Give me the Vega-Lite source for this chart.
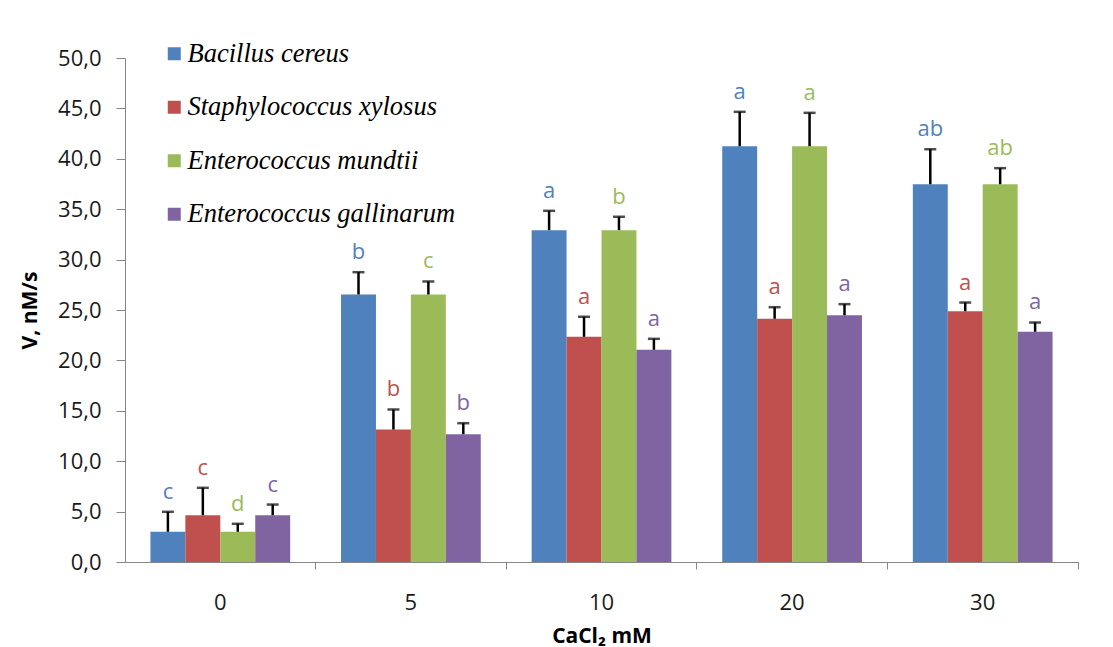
{
  "$schema": "https://vega.github.io/schema/vega-lite/v6.json",
  "autosize": {"type": "none"},
  "padding": {"left": 125, "top": 58, "right": 35, "bottom": 85},
  "width": 953,
  "height": 504,
  "background": "white",
  "config": {
    "view": {"stroke": null},
    "font": "Open Sans",
    "axis": {
      "domainColor": "#868686",
      "tickColor": "#868686",
      "labelColor": "#1a1a1a",
      "titleColor": "#000000",
      "labelFont": "Open Sans",
      "titleFont": "Open Sans",
      "labelFontSize": 22,
      "titleFontSize": 21,
      "titleFontWeight": "bold",
      "grid": false
    }
  },
  "data": {
    "values": [
      {"conc": "0", "species": "Bacillus cereus", "v": 3.0, "upper": 4.98, "letter": "c"},
      {"conc": "0", "species": "Staphylococcus xylosus", "v": 4.64, "upper": 7.36, "letter": "c"},
      {"conc": "0", "species": "Enterococcus mundtii", "v": 3.0, "upper": 3.79, "letter": "d"},
      {"conc": "0", "species": "Enterococcus gallinarum", "v": 4.64, "upper": 5.7, "letter": "c"},
      {"conc": "5", "species": "Bacillus cereus", "v": 26.54, "upper": 28.75, "letter": "b"},
      {"conc": "5", "species": "Staphylococcus xylosus", "v": 13.14, "upper": 15.13, "letter": "b"},
      {"conc": "5", "species": "Enterococcus mundtii", "v": 26.54, "upper": 27.83, "letter": "c"},
      {"conc": "5", "species": "Enterococcus gallinarum", "v": 12.68, "upper": 13.77, "letter": "b"},
      {"conc": "10", "species": "Bacillus cereus", "v": 32.92, "upper": 34.84, "letter": "a"},
      {"conc": "10", "species": "Staphylococcus xylosus", "v": 22.34, "upper": 24.33, "letter": "a"},
      {"conc": "10", "species": "Enterococcus mundtii", "v": 32.92, "upper": 34.25, "letter": "b"},
      {"conc": "10", "species": "Enterococcus gallinarum", "v": 21.05, "upper": 22.14, "letter": "a"},
      {"conc": "20", "species": "Bacillus cereus", "v": 41.25, "upper": 44.66, "letter": "a"},
      {"conc": "20", "species": "Staphylococcus xylosus", "v": 24.13, "upper": 25.28, "letter": "a"},
      {"conc": "20", "species": "Enterococcus mundtii", "v": 41.25, "upper": 44.56, "letter": "a"},
      {"conc": "20", "species": "Enterococcus gallinarum", "v": 24.48, "upper": 25.58, "letter": "a"},
      {"conc": "30", "species": "Bacillus cereus", "v": 37.48, "upper": 40.95, "letter": "ab"},
      {"conc": "30", "species": "Staphylococcus xylosus", "v": 24.88, "upper": 25.74, "letter": "a"},
      {"conc": "30", "species": "Enterococcus mundtii", "v": 37.48, "upper": 39.07, "letter": "ab"},
      {"conc": "30", "species": "Enterococcus gallinarum", "v": 22.84, "upper": 23.76, "letter": "a"}
    ]
  },
  "encoding": {
    "x": {
      "field": "conc",
      "type": "nominal",
      "sort": ["0", "5", "10", "20", "30"],
      "scale": {"paddingInner": 0, "paddingOuter": 0},
      "axis": {
        "title": "CaCl₂ mM",
        "labelAngle": 0,
        "bandPosition": 1,
        "tickSize": 7,
        "labelPadding": 23,
        "titlePadding": 12
      }
    },
    "xOffset": {
      "field": "species",
      "type": "nominal",
      "sort": ["Bacillus cereus", "Staphylococcus xylosus", "Enterococcus mundtii", "Enterococcus gallinarum"],
      "scale": {"paddingInner": 0, "paddingOuter": 0.728}
    }
  },
  "layer": [
    {
      "mark": {"type": "bar"},
      "encoding": {
        "y": {
          "field": "v",
          "type": "quantitative",
          "scale": {"domain": [0, 50], "nice": false},
          "axis": {
            "title": "V, nM/s",
            "values": [0, 5, 10, 15, 20, 25, 30, 35, 40, 45, 50],
            "labelExpr": "replace(format(datum.value, '.1f'), '.', ',')",
            "tickSize": 9,
            "labelPadding": 15,
            "titlePadding": 17
          }
        },
        "color": {
          "field": "species",
          "type": "nominal",
          "scale": {
            "domain": ["Bacillus cereus", "Staphylococcus xylosus", "Enterococcus mundtii", "Enterococcus gallinarum"],
            "range": ["#4F81BD", "#C0504D", "#9BBB59", "#8064A2"]
          },
          "legend": {
            "title": null,
            "orient": "none",
            "legendX": 36,
            "legendY": -17.5,
            "symbolType": "square",
            "symbolSize": 169,
            "symbolStrokeWidth": 0,
            "labelFont": "Liberation Serif",
            "labelFontStyle": "italic",
            "labelFontSize": 26.5,
            "labelColor": "#000000",
            "labelLimit": 500,
            "labelOffset": 0,
            "rowPadding": 26.5
          }
        }
      }
    },
    {
      "mark": {"type": "rule", "color": "#000000", "strokeWidth": 2.5},
      "encoding": {
        "y": {"field": "v", "type": "quantitative"},
        "y2": {"field": "upper"}
      }
    },
    {
      "mark": {"type": "tick", "color": "#000000", "thickness": 2.5, "size": 12, "orient": "horizontal"},
      "encoding": {
        "y": {"field": "upper", "type": "quantitative"}
      }
    },
    {
      "mark": {"type": "text", "fontSize": 22, "dy": -13, "baseline": "alphabetic", "font": "Open Sans"},
      "encoding": {
        "y": {"field": "upper", "type": "quantitative"},
        "text": {"field": "letter"},
        "color": {"field": "species", "type": "nominal", "legend": null}
      }
    }
  ]
}
